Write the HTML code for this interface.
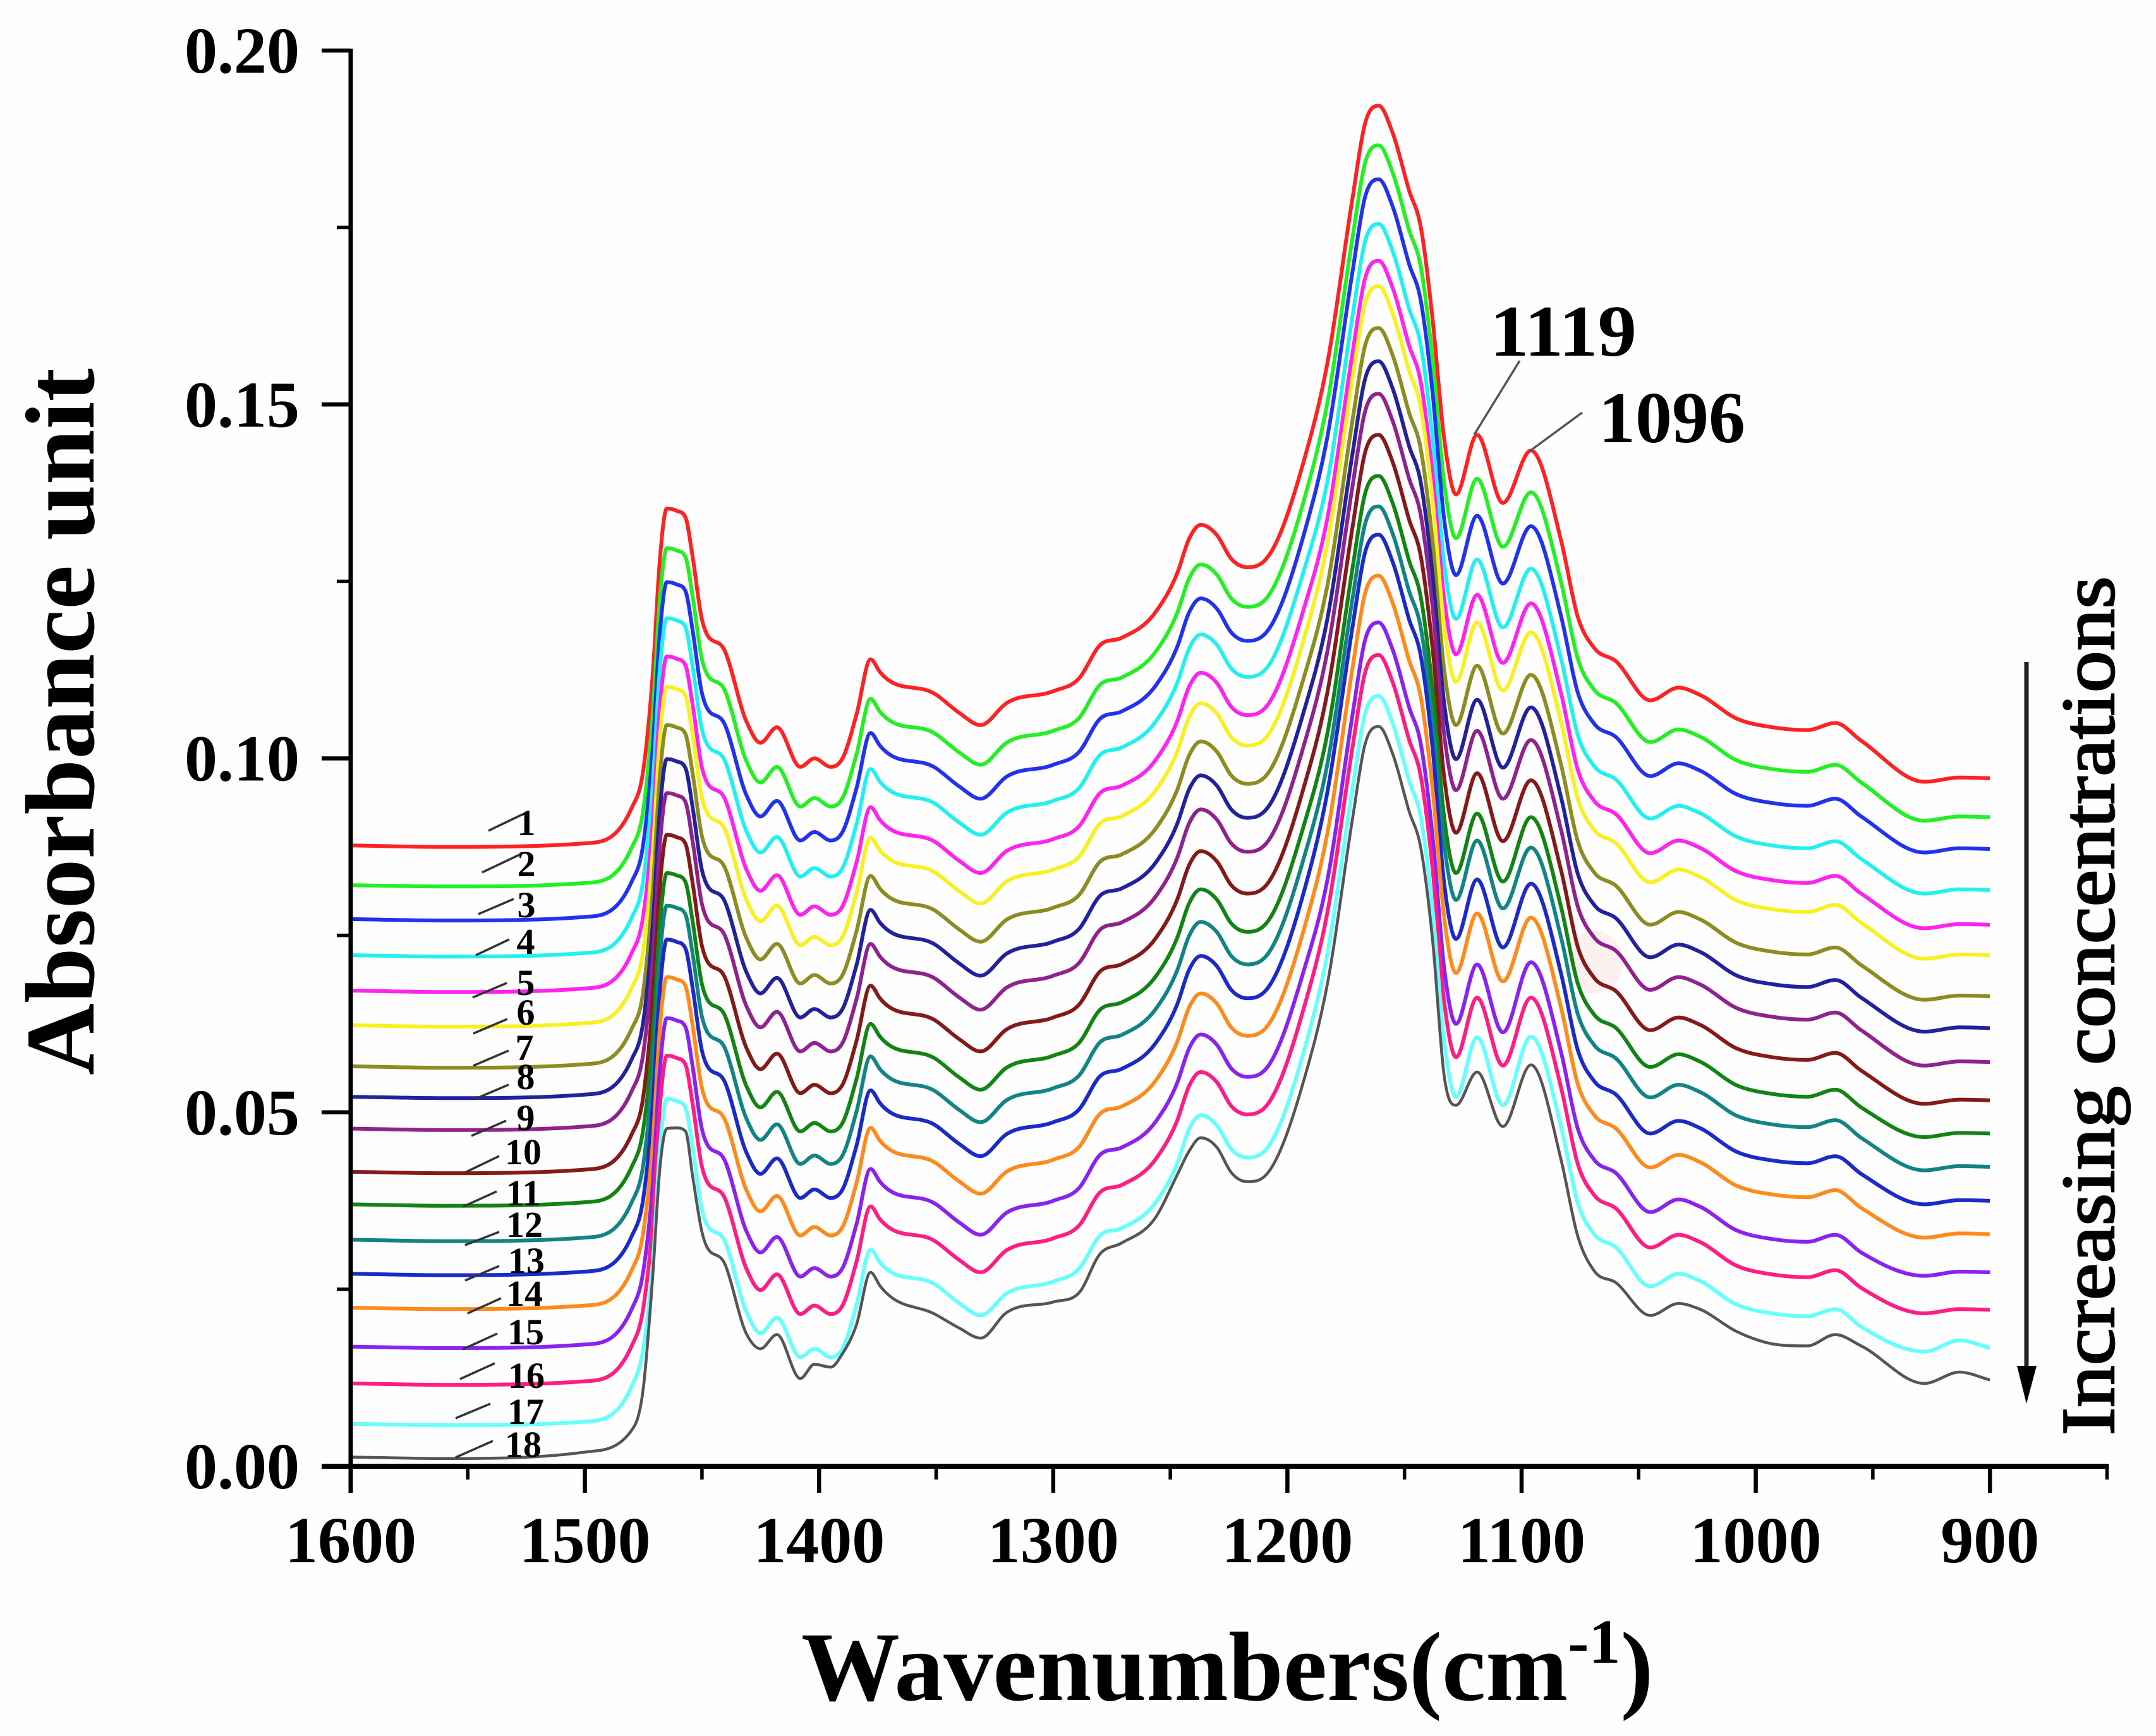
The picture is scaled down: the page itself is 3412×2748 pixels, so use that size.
<!DOCTYPE html>
<html lang="en">
<head>
<meta charset="utf-8">
<title>Absorbance spectra</title>
<style>
html,body{margin:0;padding:0;background:#fefefe;}
svg{display:block;}
text{font-family:"Liberation Serif",serif;fill:#000;}
</style>
</head>
<body>
<svg id="chart" xmlns="http://www.w3.org/2000/svg" width="3412" height="2748" viewBox="0 0 3412 2748">
<rect x="0" y="0" width="3412" height="2748" fill="#fefefe"/>
<ellipse cx="2524" cy="1523" rx="45" ry="50" fill="#fdf0f0"/>
<g id="series-layer"></g>
<g id="axis-layer"></g>
<text transform="translate(148,1702) rotate(-90)" font-size="156" font-weight="bold" textLength="1119" lengthAdjust="spacingAndGlyphs">Absorbance unit</text>
<text x="1268" y="2691" font-size="156" font-weight="bold">Wavenumbers(cm<tspan dy="-59" font-size="100">-1</tspan><tspan dy="59">)</tspan></text>
<text transform="translate(3345,2272) rotate(-90)" font-size="120" stroke="#000" stroke-width="2.5" textLength="1360" lengthAdjust="spacingAndGlyphs">Increasing concentrations</text>
<line x1="3207" y1="1048" x2="3207" y2="2170" stroke="#222" stroke-width="7"/>
<polygon points="3192,2162 3223,2162 3207,2222" fill="#000"/>
<g>
<text x="2358" y="563" font-size="116" font-weight="bold" textLength="232" lengthAdjust="spacingAndGlyphs">1119</text>
<line x1="2405" y1="571" x2="2333" y2="688" stroke="#555" stroke-width="3.5"/>
<text x="2530" y="700" font-size="116" font-weight="bold" textLength="232" lengthAdjust="spacingAndGlyphs">1096</text>
<line x1="2504" y1="653" x2="2421" y2="714" stroke="#555" stroke-width="3.5"/>
</g>
<g font-size="58" font-weight="bold" text-anchor="middle">
<text x="833" y="1322">1</text>
<text x="833" y="1387">2</text>
<text x="833" y="1452">3</text>
<text x="832" y="1510">4</text>
<text x="832" y="1575">5</text>
<text x="832" y="1622">6</text>
<text x="830" y="1678">7</text>
<text x="832" y="1724">8</text>
<text x="832" y="1789">9</text>
<text x="828" y="1843">10</text>
<text x="828" y="1908">11</text>
<text x="830" y="1958">12</text>
<text x="833" y="2015">13</text>
<text x="830" y="2067">14</text>
<text x="832" y="2128">15</text>
<text x="833" y="2197">16</text>
<text x="832" y="2254">17</text>
<text x="828" y="2306">18</text>
</g>
<g stroke="#333" stroke-width="3.5">
<line x1="773" y1="1315" x2="825" y2="1290"/>
<line x1="763" y1="1381" x2="822" y2="1353"/>
<line x1="757" y1="1447" x2="813" y2="1423"/>
<line x1="753" y1="1512" x2="806" y2="1487"/>
<line x1="748" y1="1579" x2="802" y2="1556"/>
<line x1="749" y1="1636" x2="803" y2="1613"/>
<line x1="749" y1="1687" x2="805" y2="1663"/>
<line x1="751" y1="1740" x2="805" y2="1717"/>
<line x1="746" y1="1798" x2="801" y2="1774"/>
<line x1="736" y1="1856" x2="790" y2="1830"/>
<line x1="733" y1="1910" x2="786" y2="1886"/>
<line x1="736" y1="1971" x2="790" y2="1950"/>
<line x1="736" y1="2027" x2="790" y2="2004"/>
<line x1="740" y1="2079" x2="793" y2="2055"/>
<line x1="732" y1="2136" x2="787" y2="2111"/>
<line x1="728" y1="2183" x2="783" y2="2158"/>
<line x1="721" y1="2245" x2="776" y2="2222"/>
<line x1="721" y1="2307" x2="780" y2="2281"/>
</g>
</svg>
<script>
// Wavenumber sample positions (cm-1) shared by all spectra
const wavenumbers=[1600,1560,1500,1480,1475,1471,1468,1465,1461,1457,1454,1450,1440,1431,1425,1418,1408,1402,1395,1390,1384,1378,1374,1350,1340,1331,1320,1300,1289,1280,1271,1256,1247,1242,1237,1230,1224,1217,1209,1193,1183,1172,1167,1161,1155,1148,1143,1138,1133,1128,1119,1108,1096,1083,1076,1069,1060,1045,1033,1024,1008,993,978,966,955,928,913,900];
// Absorbance values, stored in units of 0.0001 absorbance
const absorbanceUnit=0.0001;
const series01=[877,875,880,930,985,1120,1280,1353,1350,1340,1285,1196,1150,1052,1022,1044,988,1000,988,1000,1062,1140,1122,1090,1064,1047,1078,1095,1113,1160,1170,1208,1262,1310,1330,1315,1282,1270,1282,1420,1557,1796,1895,1922,1883,1802,1750,1620,1450,1373,1457,1361,1435,1306,1200,1156,1138,1082,1100,1090,1056,1044,1040,1050,1025,967,973,972];
const series02=[821,819,824,874,929,1064,1224,1297,1294,1284,1229,1140,1094,996,966,988,932,944,932,944,1006,1084,1066,1034,1008,991,1022,1039,1057,1104,1114,1152,1206,1254,1274,1259,1226,1214,1226,1364,1501,1740,1839,1866,1827,1746,1694,1564,1388,1311,1395,1299,1376,1247,1141,1097,1079,1023,1041,1031,997,985,981,991,966,912,918,917];
const series03=[773,771,776,826,881,1016,1176,1249,1246,1236,1181,1092,1046,948,918,940,884,896,884,896,958,1036,1018,986,960,943,974,991,1009,1056,1066,1104,1158,1206,1226,1211,1178,1166,1178,1316,1453,1692,1791,1818,1779,1698,1646,1516,1336,1259,1343,1247,1328,1199,1093,1049,1031,975,993,983,949,937,933,943,918,867,873,872];
const series04=[722,720,725,775,830,965,1125,1198,1195,1185,1130,1041,995,897,867,889,833,845,833,845,907,985,967,935,909,892,923,940,958,1005,1015,1053,1107,1155,1175,1160,1127,1115,1127,1265,1390,1629,1728,1755,1716,1635,1583,1453,1274,1197,1281,1185,1268,1139,1033,989,971,915,933,923,889,877,873,883,858,809,815,814];
const series05=[672,670,675,725,780,911,1071,1144,1141,1131,1076,987,941,843,813,835,779,791,779,791,853,931,913,881,855,838,869,886,904,951,961,999,1053,1101,1121,1106,1073,1061,1073,1211,1338,1577,1676,1703,1664,1583,1531,1401,1224,1147,1231,1135,1219,1090,984,940,922,866,884,874,840,828,824,834,809,760,766,765];
const series06=[623,621,626,676,731,868,1028,1101,1098,1088,1033,944,898,800,770,792,736,748,736,748,810,888,870,838,812,795,826,843,861,908,918,956,1010,1058,1078,1063,1030,1018,1030,1168,1302,1541,1640,1667,1628,1547,1495,1365,1185,1108,1192,1096,1178,1049,943,899,881,825,843,833,799,787,783,793,768,717,723,722];
const series07=[565,563,568,618,673,814,974,1047,1044,1034,979,890,844,746,716,738,682,694,682,694,756,834,816,784,758,741,772,789,807,854,864,902,956,1004,1024,1009,976,964,976,1114,1243,1482,1581,1608,1569,1488,1436,1306,1124,1047,1131,1035,1118,989,883,839,821,765,783,773,739,727,723,733,708,659,665,664];
const series08=[522,520,525,575,630,766,926,999,996,986,931,842,796,698,668,690,634,646,634,646,708,786,768,736,710,693,724,741,759,806,816,854,908,956,976,961,928,916,928,1066,1196,1435,1534,1561,1522,1441,1389,1259,1076,999,1083,987,1072,943,837,793,775,719,737,727,693,681,677,687,662,614,620,619];
const series09=[477,475,480,530,585,718,878,951,948,938,883,794,748,650,620,642,586,598,586,598,660,738,720,688,662,645,676,693,711,758,768,806,860,908,928,913,880,868,880,1018,1150,1389,1488,1515,1476,1395,1343,1213,1032,955,1039,943,1026,897,791,747,729,673,691,681,647,635,631,641,616,566,572,571];
const series10=[416,414,419,469,524,659,819,892,889,879,824,735,689,591,561,583,527,539,527,539,601,679,661,629,603,586,617,634,652,699,709,747,801,849,869,854,821,809,821,959,1092,1331,1430,1457,1418,1337,1285,1155,972,895,979,883,969,840,734,690,672,616,634,624,590,578,574,584,559,512,518,517];
const series11=[370,368,373,423,478,605,765,838,835,825,770,681,635,537,507,529,473,485,473,485,547,625,607,575,549,532,563,580,598,645,655,693,747,795,815,800,767,755,767,905,1034,1273,1372,1399,1360,1279,1227,1097,915,838,922,826,917,788,682,638,620,564,582,572,538,526,522,532,507,465,471,470];
const series12=[320,318,323,373,428,559,719,792,789,779,724,635,589,491,461,483,427,439,427,439,501,579,561,529,503,486,517,534,552,599,609,647,701,749,769,754,721,709,721,859,991,1230,1329,1356,1317,1236,1184,1054,877,800,884,788,874,745,639,595,577,521,539,529,495,483,479,489,464,418,424,423];
const series13=[272,270,275,325,380,511,671,744,741,731,676,587,541,443,413,435,379,391,379,391,453,531,513,481,455,438,469,486,504,551,561,599,653,701,721,706,673,661,673,811,951,1190,1289,1316,1277,1196,1144,1014,822,745,829,733,823,694,588,544,526,470,488,478,444,432,428,438,413,370,376,375];
const series14=[224,222,227,277,332,458,618,691,688,678,623,534,488,390,360,382,326,338,326,338,400,478,460,428,402,385,416,433,451,498,508,546,600,648,668,653,620,608,620,758,893,1132,1231,1258,1219,1138,1086,956,774,697,781,685,775,646,540,496,478,422,440,430,396,384,380,390,365,323,329,328];
const series15=[169,167,172,222,277,400,560,633,630,620,565,476,430,332,302,324,268,280,268,280,342,420,402,370,344,327,358,375,393,440,450,488,542,590,610,595,562,550,562,700,827,1066,1165,1192,1153,1072,1020,890,702,625,709,613,712,583,477,433,415,359,377,367,333,321,317,327,302,269,275,274];
const series16=[117,115,120,170,225,347,507,580,577,567,512,423,377,279,249,271,215,227,215,227,289,367,349,317,291,274,305,322,340,387,397,435,489,537,557,542,509,497,509,647,781,1020,1119,1146,1107,1026,974,844,655,578,662,566,662,533,427,383,365,309,327,317,283,271,267,277,252,216,222,221];
const series17=[60,58,63,113,168,286,446,519,516,506,451,362,316,218,188,210,154,166,154,166,228,306,288,256,230,213,244,261,279,326,336,374,428,476,496,481,448,436,448,586,723,962,1061,1088,1049,968,916,786,599,522,606,510,607,478,372,328,310,254,272,262,228,216,212,222,197,162,178,167];
const series18=[13,11,20,51,112,270,420,477,478,473,410,331,284,187,166,186,124,144,140,159,200,274,255,214,195,181,217,232,245,300,315,353,412,445,464,450,415,402,412,545,680,919,1018,1045,1006,925,873,743,550,510,557,480,567,431,325,276,260,213,230,222,190,173,170,186,170,117,133,122];
const allSeries=[series01,series02,series03,series04,series05,series06,series07,series08,series09,series10,series11,series12,series13,series14,series15,series16,series17,series18];
const seriesColors=["#ff2222","#22f022","#2233ee","#22f0f0","#ff22f0","#f8f020","#8c8c22","#22229c","#8f228f","#841a1a","#138413","#138484","#1c2ac8","#ff8a1c","#8a22f0","#ff1c84","#66ffff","#555555"];
const yTickValues=[0,0.05,0.10,0.15,0.20];
const yTickLabels=["0.00","0.05","0.10","0.15","0.20"];
const yMinorTickValues=[0.025,0.075,0.125,0.175];
const xTickValues=[1600,1500,1400,1300,1200,1100,1000,900];
const xTickLabels=["1600","1500","1400","1300","1200","1100","1000","900"];
const xMinorTickValues=[1550,1450,1350,1250,1150,1050,950,850];

const NS="http://www.w3.org/2000/svg";
function xScale(w){return 555+(1600-w)*3.706;}
function yScale(a){return 2321-a*(2241/0.2);}
function smoothPath(xs,ys){
  const n=xs.length,d=[],m=[];
  for(let i=0;i<n-1;i++){d.push((ys[i+1]-ys[i])/(xs[i+1]-xs[i]));}
  m[0]=d[0];m[n-1]=d[n-2];
  for(let i=1;i<n-1;i++){
    const h0=xs[i]-xs[i-1],h1=xs[i+1]-xs[i];
    if(d[i-1]*d[i]<=0){m[i]=0;}
    else{
      const t=(h1*d[i-1]+h0*d[i])/(h0+h1);
      const lim=3*Math.min(Math.abs(d[i-1]),Math.abs(d[i]));
      m[i]=Math.sign(t)*Math.min(Math.abs(t),lim);
    }
  }
  let p="M"+xs[0].toFixed(1)+" "+ys[0].toFixed(1);
  for(let i=0;i<n-1;i++){
    const h=(xs[i+1]-xs[i])/3;
    p+="C"+(xs[i]+h).toFixed(1)+" "+(ys[i]+m[i]*h).toFixed(1)+" "+(xs[i+1]-h).toFixed(1)+" "+(ys[i+1]-m[i+1]*h).toFixed(1)+" "+xs[i+1].toFixed(1)+" "+ys[i+1].toFixed(1);
  }
  return p;
}
const seriesLayer=document.getElementById("series-layer");
allSeries.forEach(function(vals,k){
  const el=document.createElementNS(NS,"path");
  
  
  el.setAttribute("d",smoothPath(wavenumbers.map(xScale),vals.map(function(v){return yScale(v*absorbanceUnit);})));
  el.setAttribute("fill","none");
  el.setAttribute("stroke",seriesColors[k]);
  el.setAttribute("stroke-width",k===17?"4.6":"6");
  el.setAttribute("stroke-linejoin","round");
  seriesLayer.appendChild(el);
});
const axisLayer=document.getElementById("axis-layer");
function addLine(name,x1,y1,x2,y2,w){
  const el=document.createElementNS(NS,"line");
  
  
  el.setAttribute("x1",x1);el.setAttribute("y1",y1);el.setAttribute("x2",x2);el.setAttribute("y2",y2);
  el.setAttribute("stroke","#000");el.setAttribute("stroke-width",w);
  axisLayer.appendChild(el);
}
function addLabel(name,str,x,y,anchor){
  const el=document.createElementNS(NS,"text");
  
  
  el.setAttribute("x",x);el.setAttribute("y",y);
  el.setAttribute("text-anchor",anchor);
  el.setAttribute("font-size","104");el.setAttribute("font-weight","bold");
  el.textContent=str;
  axisLayer.appendChild(el);
}
addLine("y-axis-line",555,yScale(0.2)-3,555,2363,7);
addLine("x-axis-line",509,2321,xScale(850)+3,2321,8);
yTickValues.forEach(function(v,i){
  addLine("y-tick-"+yTickLabels[i],509,yScale(v),555,yScale(v),6.5);
  addLabel("y-tick-label-"+yTickLabels[i],yTickLabels[i],474,yScale(v)+35,"end");
});
yMinorTickValues.forEach(function(v){addLine("y-minor-tick",533,yScale(v),555,yScale(v),5.5);});
xTickValues.forEach(function(v,i){
  addLine("x-tick-"+xTickLabels[i],xScale(v),2321,xScale(v),2363,6.5);
  addLabel("x-tick-label-"+xTickLabels[i],xTickLabels[i],xScale(v),2473,"middle");
});
xMinorTickValues.forEach(function(v){addLine("x-minor-tick",xScale(v),2321,xScale(v),2342,5.5);});
</script>
</body>
</html>
